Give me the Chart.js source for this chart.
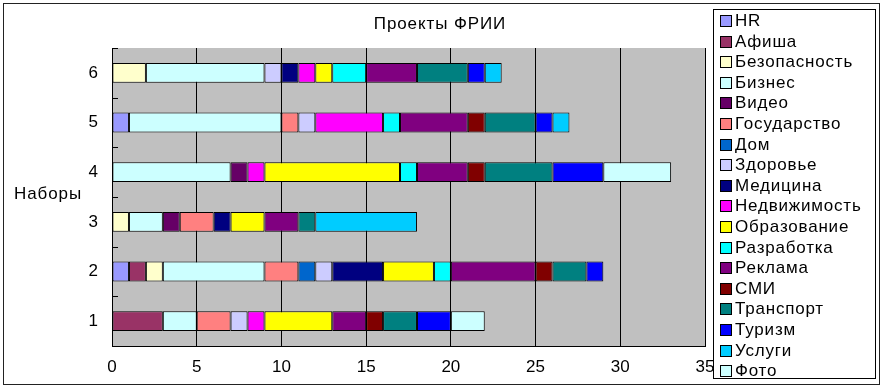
<!DOCTYPE html>
<html>
<head>
<meta charset="utf-8">
<script src="https://cdn.jsdelivr.net/npm/chart.js@4/dist/chart.umd.min.js"></script>
<style>
    body { margin: 0; background: #fff; font-family: "Liberation Sans", Arial, sans-serif; }
    #wrap { position: relative; width: 886px; height: 390px; }
    #frame { position: absolute; left: 3px; top: 3px; width: 877px; height: 382px; border: 1px solid #222; box-sizing: border-box; }
    #chart { position: absolute; left: 0; top: 0; }
    #title { position: absolute; left: 340px; width: 200px; top: 14px; text-align: center; font-size: 17px; letter-spacing: 0.9px; color: #000; }
    #ytitle { position: absolute; left: 14px; top: 184px; font-size: 17px; letter-spacing: 0.9px; color: #000; }
    #legend { position: absolute; left: 713px; top: 9px; width: 163px; height: 370px; border: 1px solid #000; box-sizing: border-box; background: #fff; padding-top: 1px; }
    .item { height: 20.6px; line-height: 20.6px; font-size: 17px; letter-spacing: 0.8px; white-space: nowrap; }
    .sw { display: inline-block; width: 10px; height: 10px; border: 1px solid #000; margin: 0 3px 0 6px; vertical-align: -1px; }
</style>
</head>
<body>
<div id="wrap">
    <div id="frame"></div>
    <canvas id="chart" width="886" height="390"></canvas>
    <div id="title">Проекты ФРИИ</div>
    <div id="ytitle">Наборы</div>
    <div id="legend"></div>
</div>
<script>
const categories = ["1", "2", "3", "4", "5", "6"]
const xTicks = [0, 5, 10, 15, 20, 25, 30, 35]

const seriesNames = ["HR", "Афиша", "Безопасность", "Бизнес", "Видео", "Государство", "Дом", "Здоровье", "Медицина",
    "Недвижимость", "Образование", "Разработка", "Реклама", "СМИ", "Транспорт", "Туризм", "Услуги", "Фото"]
const seriesColors = ["#9999FF", "#993366", "#FFFFCC", "#CCFFFF", "#660066", "#FF8080", "#0066CC", "#CCCCFF", "#000080",
    "#FF00FF", "#FFFF00", "#00FFFF", "#800080", "#800000", "#008080", "#0000FF", "#00CCFF", "#CCFFFF"]

const hr           = [0, 1, 0, 0, 1, 0]
const afisha       = [3, 1, 0, 0, 0, 0]
const bezopasnost  = [0, 1, 1, 0, 0, 2]
const biznes       = [2, 6, 2, 7, 9, 7]
const video        = [0, 0, 1, 1, 0, 0]
const gosudarstvo  = [2, 2, 2, 0, 1, 0]
const dom          = [0, 1, 0, 0, 0, 0]
const zdorovie     = [1, 1, 0, 0, 1, 1]
const medicina     = [0, 3, 1, 0, 0, 1]
const nedvizhimost = [1, 0, 0, 1, 4, 1]
const obrazovanie  = [4, 3, 2, 8, 0, 1]
const razrabotka   = [0, 1, 0, 1, 1, 2]
const reklama      = [2, 5, 2, 3, 4, 3]
const smi          = [1, 1, 0, 1, 1, 0]
const transport    = [2, 2, 1, 4, 3, 3]
const turizm       = [2, 1, 0, 3, 1, 1]
const uslugi       = [0, 0, 6, 0, 1, 1]
const foto         = [2, 0, 0, 4, 0, 0]

const seriesValues = [hr, afisha, bezopasnost, biznes, video, gosudarstvo, dom, zdorovie, medicina,
    nedvizhimost, obrazovanie, razrabotka, reklama, smi, transport, turizm, uslugi, foto]

// legend in html
const legend = document.getElementById("legend")
seriesNames.forEach((name, i) => {
    const row = document.createElement("div")
    row.className = "item"
    row.innerHTML = '<span class="sw" style="background:' + seriesColors[i] + '"></span>' + name
    legend.appendChild(row)
})

// gray plot area + small category ticks
const plotBg = {
    id: "plotBg",
    beforeDraw(chart) {
        const { ctx, chartArea: a } = chart
        ctx.save()
        ctx.fillStyle = "#C0C0C0"
        ctx.fillRect(a.left, a.top, a.right - a.left, a.bottom - a.top)
        ctx.restore()
    },
    afterDraw(chart) {
        const { ctx, chartArea: a } = chart
        const step = (a.bottom - a.top) / categories.length
        ctx.save()
        ctx.strokeStyle = "#000"
        ctx.lineWidth = 1
        for (let i = 0; i <= categories.length; i++) {
            const y = Math.round(a.top + i * step) + 0.5
            ctx.beginPath()
            ctx.moveTo(a.left, y)
            ctx.lineTo(a.left + 6, y)
            ctx.stroke()
        }
        ctx.restore()
    }
}

const config = {
    type: "bar",
    data: {
        labels: categories,
        datasets: seriesNames.map((name, i) => ({
            label: name,
            data: seriesValues[i],
            backgroundColor: seriesColors[i],
            borderColor: "#000",
            borderWidth: 1,
            borderSkipped: false,
            categoryPercentage: 1,
            barPercentage: 0.4
        }))
    },
    options: {
        indexAxis: "y",
        responsive: false,
        animation: false,
        layout: { padding: { top: 48, right: 181, left: 0, bottom: 0 } },
        scales: {
            x: {
                stacked: true,
                min: 0,
                max: 35,
                afterBuildTicks: scale => { scale.ticks = xTicks.map(v => ({ value: v })) },
                afterFit: scale => { scale.height = 44 },
                grid: { color: "#000", drawTicks: false },
                border: { color: "#000", width: 1 },
                ticks: { color: "#000", padding: 11, font: { family: "Liberation Sans", size: 17 } }
            },
            y: {
                stacked: true,
                reverse: true,
                afterFit: scale => { scale.width = 112 },
                grid: { display: false, drawTicks: false },
                border: { color: "#000", width: 1 },
                ticks: { color: "#000", padding: 14, font: { family: "Liberation Sans", size: 17 } }
            }
        },
        plugins: {
            legend: { display: false },
            title: { display: false },
            tooltip: { enabled: false }
        }
    },
    plugins: [plotBg]
}

const myChart = new Chart(document.getElementById("chart"), config)
</script>
</body>
</html>
